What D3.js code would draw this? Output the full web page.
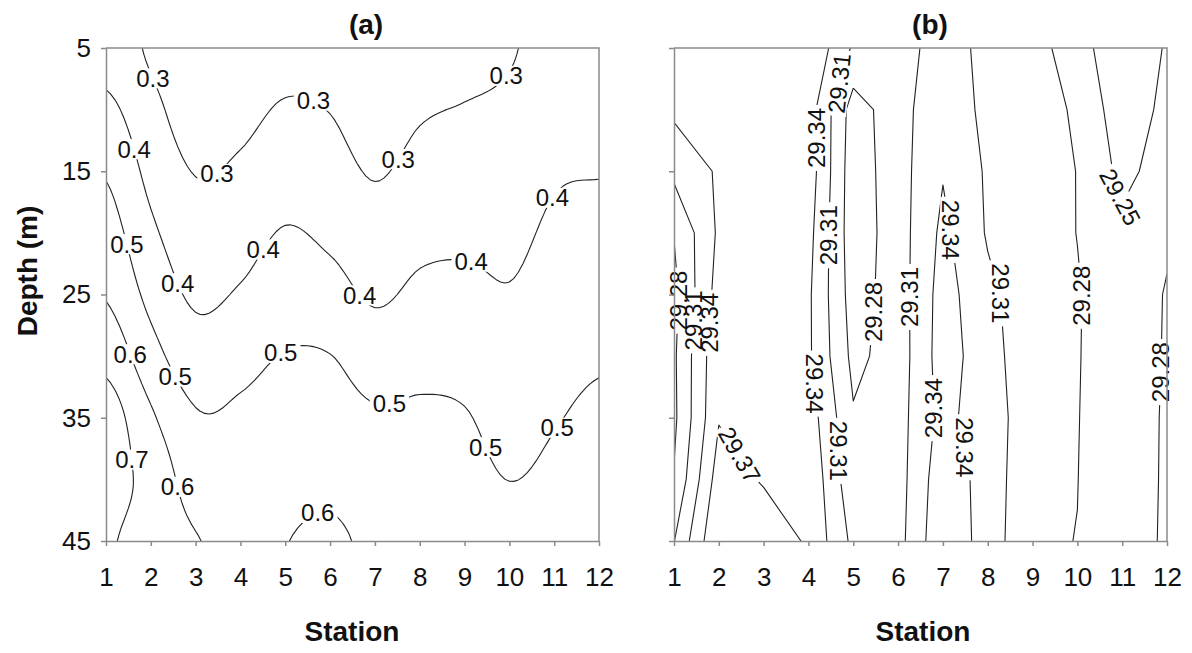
<!DOCTYPE html>
<html><head><meta charset="utf-8">
<script src="https://cdn.jsdelivr.net/npm/d3@7/dist/d3.min.js"></script>
<style>
html,body{margin:0;padding:0;background:#fff;}
svg{display:block;}
</style></head><body>
<svg id="chart" width="1192" height="653"></svg>
<script>
// ---------------- data ----------------
const stations = [1,2,3,4,5,6,7,8,9,10,11,12];
const depths = [5,10,15,20,25,30,35,40,45];
const depthTicks = [5,15,25,35,45];

// Panel (a): rows = depths, columns = stations
const levelsA = [0.3,0.4,0.5,0.6,0.7];
const gridA = [
  [0.357,0.285,0.210,0.224,0.262,0.254,0.200,0.247,0.266,0.291,0.338,0.334],
  [0.424,0.329,0.251,0.270,0.310,0.297,0.245,0.289,0.305,0.320,0.364,0.365],
  [0.491,0.372,0.296,0.316,0.358,0.339,0.292,0.331,0.343,0.348,0.390,0.396],
  [0.543,0.419,0.340,0.361,0.406,0.381,0.340,0.374,0.382,0.377,0.416,0.427],
  [0.593,0.472,0.384,0.410,0.457,0.437,0.387,0.420,0.424,0.406,0.442,0.457],
  [0.669,0.537,0.444,0.472,0.504,0.502,0.453,0.473,0.469,0.437,0.468,0.489],
  [0.750,0.615,0.510,0.516,0.536,0.540,0.512,0.514,0.506,0.468,0.494,0.520],
  [0.740,0.665,0.557,0.545,0.568,0.577,0.546,0.542,0.530,0.499,0.520,0.550],
  [0.710,0.656,0.605,0.575,0.598,0.615,0.580,0.570,0.550,0.530,0.545,0.580]
];

// Panel (b): rows = depths, columns = stations
const levelsB = [29.25,29.28,29.31,29.34,29.37];
const gridB = [
  [29.355,29.355,29.355,29.368,29.306,29.290,29.331,29.297,29.292,29.264,29.225,29.253],
  [29.346,29.352,29.355,29.355,29.266,29.297,29.335,29.300,29.290,29.277,29.231,29.258],
  [29.317,29.344,29.352,29.357,29.262,29.298,29.338,29.306,29.292,29.2795,29.242,29.263],
  [29.281,29.345,29.355,29.350,29.262,29.296,29.347,29.307,29.294,29.2795,29.257,29.276],
  [29.272,29.353,29.356,29.345,29.266,29.295,29.353,29.317,29.292,29.282,29.262,29.282],
  [29.2755,29.364,29.360,29.345,29.272,29.294,29.355,29.322,29.290,29.2815,29.263,29.2825],
  [29.274,29.368,29.362,29.356,29.283,29.298,29.350,29.321,29.297,29.281,29.261,29.284],
  [29.282,29.385,29.367,29.365,29.288,29.2975,29.360,29.327,29.2865,29.2805,29.2555,29.2857],
  [29.309,29.400,29.390,29.366,29.3026,29.2995,29.365,29.326,29.2845,29.2795,29.262,29.285]
];

// contour label anchors: [level, station, depth, rotation]
const labelsA = [
  [0.3,2.05,7.46,0],[0.3,5.64,9.2,0],[0.3,3.67,16.1,0],[0.3,7.56,14.1,0],[0.3,9.91,7.2,0],
  [0.4,1.54,13.3,0],[0.4,2.52,24.2,0],[0.4,4.53,21.4,0],[0.4,6.58,25.3,0],[0.4,9.14,22.4,0],[0.4,10.85,16.9,0],
  [0.5,1.37,21.0,0],[0.5,2.52,31.7,0],[0.5,4.78,29.2,0],[0.5,7.3,33.5,0],[0.5,9.53,37.3,0],[0.5,11.06,35.8,0],
  [0.6,1.5,29.9,0],[0.6,2.6,40.6,0],[0.6,5.68,42.1,0],
  [0.7,1.58,38.4,0]
];
const labelsB = [
  [29.28,1.15,25.5,-90],[29.31,1.43,27.1,-90],[29.34,1.80,27.3,-90],
  [29.34,4.19,12.3,-90],[29.31,4.82,8.0,-84],[29.31,4.67,20.2,-90],
  [29.28,5.69,26.5,-90],[29.31,6.27,25.2,-90],
  [29.34,3.96,32.3,90],[29.31,4.63,37.7,90],[29.37,2.59,37.7,60],
  [29.34,7.09,19.8,90],[29.34,6.94,34.2,-90],[29.34,7.46,37.4,90],
  [29.31,8.28,24.9,90],[29.28,10.08,25.1,-90],[29.25,10.85,17.2,62],
  [29.28,11.89,31.3,-90]
];

// ---------------- helpers ----------------
const FONT = "'Liberation Sans', Arial, Helvetica, sans-serif";
const W = 1192, H = 653;
const axisColor = "#8a8a8a";
const lineColor = "#222";

function upsample(grid, k){
  const ny0 = grid.length, nx0 = grid[0].length;
  const nx = (nx0-1)*k+1, ny = (ny0-1)*k+1;
  const g = (i,j)=>grid[Math.max(0,Math.min(ny0-1,j))][Math.max(0,Math.min(nx0-1,i))];
  const cr = (p0,p1,p2,p3,t)=>0.5*((2*p1)+(-p0+p2)*t+(2*p0-5*p1+4*p2-p3)*t*t+(-p0+3*p1-3*p2+p3)*t*t*t);
  const out = new Float64Array(nx*ny);
  for(let J=0;J<ny;J++){
    const fy=J/k, j=Math.min(Math.floor(fy),ny0-2), ty=fy-j;
    for(let I=0;I<nx;I++){
      const fx=I/k, i=Math.min(Math.floor(fx),nx0-2), tx=fx-i;
      const col=[-1,0,1,2].map(m=>cr(g(i-1,j+m),g(i,j+m),g(i+1,j+m),g(i+2,j+m),tx));
      out[J*nx+I]=cr(col[0],col[1],col[2],col[3],ty);
    }
  }
  return {values:out,nx,ny};
}

function isolines(vals, nx, ny, level){
  const segs=[];
  for(let j=0;j<ny-1;j++){
    for(let i=0;i<nx-1;i++){
      const a=vals[j*nx+i], b=vals[j*nx+i+1], c=vals[(j+1)*nx+i+1], d=vals[(j+1)*nx+i];
      const A=a>=level,B=b>=level,C=c>=level,D=d>=level;
      const e=[
        (A!==B)?['h',i,j,i+(level-a)/(b-a),j]:null,
        (B!==C)?['v',i+1,j,i+1,j+(level-b)/(c-b)]:null,
        (D!==C)?['h',i,j+1,i+(level-d)/(c-d),j+1]:null,
        (A!==D)?['v',i,j,i,j+(level-a)/(d-a)]:null
      ];
      const present=e.filter(x=>x);
      if(present.length===2) segs.push(present);
      else if(present.length===4){
        const ctr=((a+b+c+d)/4)>=level;
        if(ctr===A){segs.push([e[0],e[1]]);segs.push([e[2],e[3]]);}
        else {segs.push([e[0],e[3]]);segs.push([e[1],e[2]]);}
      }
    }
  }
  const key=p=>p[0]+p[1]+'_'+p[2];
  const adj=new Map();
  segs.forEach((s,k)=>s.forEach(p=>{const kk=key(p); if(!adj.has(kk)) adj.set(kk,[]); adj.get(kk).push(k);}));
  const used=new Uint8Array(segs.length);
  const lines=[];
  function trace(k,startPt){
    const line=[[startPt[3],startPt[4]]];
    let cur=k, curKey=key(startPt);
    while(true){
      used[cur]=1;
      const s=segs[cur];
      const other=key(s[0])===curKey?s[1]:s[0];
      line.push([other[3],other[4]]);
      const nk=key(other);
      const nxt=(adj.get(nk)||[]).find(q=>!used[q]);
      if(nxt===undefined) break;
      cur=nxt; curKey=nk;
    }
    return line;
  }
  for(const [kk,list] of adj){
    if(list.length===1 && !used[list[0]]){
      const s=segs[list[0]];
      const sp=key(s[0])===kk?s[0]:s[1];
      lines.push(trace(list[0],sp));
    }
  }
  segs.forEach((s,k)=>{ if(!used[k]) lines.push(trace(k,s[0])); });
  return lines;
}

function nearestOnLines(lines, px, py){
  let best=null, bd=Infinity;
  for(const L of lines){
    for(let i=0;i<L.length-1;i++){
      const [x1,y1]=L[i],[x2,y2]=L[i+1];
      const dx=x2-x1, dy=y2-y1, len2=dx*dx+dy*dy;
      let t=len2>0?((px-x1)*dx+(py-y1)*dy)/len2:0;
      t=Math.max(0,Math.min(1,t));
      const qx=x1+t*dx, qy=y1+t*dy;
      const dd=(qx-px)**2+(qy-py)**2;
      if(dd<bd){bd=dd;best=[qx,qy];}
    }
  }
  return best;
}

// ---------------- drawing ----------------
const svg=d3.select('#chart').attr('font-family',FONT);
svg.append('rect').attr('width',W).attr('height',H).attr('fill','#fff');
const defs=svg.append('defs');
const yScale=d3.scaleLinear().domain([5,45]).range([48,541]);
const sIdx=d3.scaleLinear().domain(d3.range(stations.length)).range(stations);
const dIdx=d3.scaleLinear().domain(d3.range(depths.length)).range(depths);

const panels=[
  {id:'a',title:'(a)',grid:gridA,levels:levelsA,labels:labelsA,fmt:d3.format('.1f'),
   x:d3.scaleLinear().domain([1,12]).range([106,599]),k:10,showY:true,titleX:366,stationX:352},
  {id:'b',title:'(b)',grid:gridB,levels:levelsB,labels:labelsB,fmt:d3.format('.2f'),
   x:d3.scaleLinear().domain([1,12]).range([674,1167]),k:1,showY:false,titleX:930,stationX:923}
];

const labelFS=24;
panels.forEach(p=>{
  const up = p.k>1 ? upsample(p.grid,p.k) : {values:Float64Array.from(p.grid.flat()),nx:p.grid[0].length,ny:p.grid.length};
  const toPx = q=>[p.x(sIdx(q[0]/p.k)), yScale(dIdx(q[1]/p.k))];
  const contourSets = p.levels.map(level=>({level, lines: isolines(up.values,up.nx,up.ny,level).map(L=>L.map(toPx))}));

  const clipId='clip'+p.id, maskId='mask'+p.id;
  const [x0,x1]=p.x.range(), [y0,y1]=yScale.range();
  defs.append('clipPath').attr('id',clipId).append('rect')
    .attr('x',x0).attr('y',y0).attr('width',x1-x0).attr('height',y1-y0);
  const mask=defs.append('mask').attr('id',maskId).attr('maskUnits','userSpaceOnUse')
    .attr('x',0).attr('y',0).attr('width',W).attr('height',H);
  mask.append('rect').attr('x',0).attr('y',0).attr('width',W).attr('height',H).attr('fill','#fff');

  const lineGen=d3.line();
  const lg=svg.append('g').attr('clip-path',`url(#${clipId})`).append('g').attr('mask',`url(#${maskId})`);
  contourSets.forEach(cs=>{
    lg.selectAll(null).data(cs.lines).join('path')
      .attr('d',lineGen).attr('fill','none').attr('stroke',lineColor)
      .attr('stroke-width',1.1).attr('stroke-linejoin','round');
  });

  // labels
  const tg=svg.append('g');
  p.labels.forEach(([level,s,d,rot])=>{
    const cs=contourSets.find(c=>Math.abs(c.level-level)<1e-9);
    const target=[p.x(s),yScale(d)];
    const pt=nearestOnLines(cs.lines,target[0],target[1])||target;
    const tr=`translate(${pt[0].toFixed(2)},${pt[1].toFixed(2)}) rotate(${rot})`;
    const t=tg.append('text').attr('transform',tr).attr('text-anchor','middle')
      .attr('dy','0.35em').attr('font-size',labelFS).attr('fill','#111').text(p.fmt(level));
    const w=t.node().getComputedTextLength();
    mask.append('rect').attr('transform',tr).attr('x',-w/2-3).attr('y',-0.42*labelFS)
      .attr('width',w+6).attr('height',0.84*labelFS).attr('fill','#000');
  });

  // axes
  const xAxis=d3.axisBottom(p.x).tickValues(stations).tickSize(5).tickSizeOuter(0).tickPadding(22).tickFormat(d3.format('d'));
  const gx=svg.append('g').attr('transform',`translate(0,${y1})`).call(xAxis);
  const yAxis=d3.axisLeft(yScale).tickValues(depthTicks).tickSize(5).tickSizeOuter(0).tickPadding(10)
    .tickFormat(p.showY?d3.format('d'):()=>'');
  const gy=svg.append('g').attr('transform',`translate(${x0},0)`).call(yAxis);
  [gx,gy].forEach(g=>{
    g.attr('font-family',FONT).attr('font-size',26);
    g.select('.domain').attr('stroke',axisColor).attr('stroke-width',1.5);
    g.selectAll('.tick line').attr('stroke',axisColor).attr('stroke-width',1.5);
    g.selectAll('.tick text').attr('fill','#111');
  });
  // frame top/right
  svg.append('path').attr('d',`M${x0},${y0}H${x1}V${y1}`).attr('fill','none')
    .attr('stroke',axisColor).attr('stroke-width',1.5);

  // titles
  svg.append('text').attr('x',p.titleX).attr('y',34).attr('text-anchor','middle')
    .attr('font-size',28).attr('font-weight','bold').attr('fill','#111').text(p.title);
  svg.append('text').attr('x',p.stationX).attr('y',641).attr('text-anchor','middle')
    .attr('font-size',28).attr('font-weight','bold').attr('fill','#111').text('Station');
});

svg.append('text').attr('transform','translate(36.5,271) rotate(-90)').attr('text-anchor','middle')
  .attr('font-size',28).attr('font-weight','bold').attr('fill','#111').text('Depth (m)');
</script>
</body></html>
